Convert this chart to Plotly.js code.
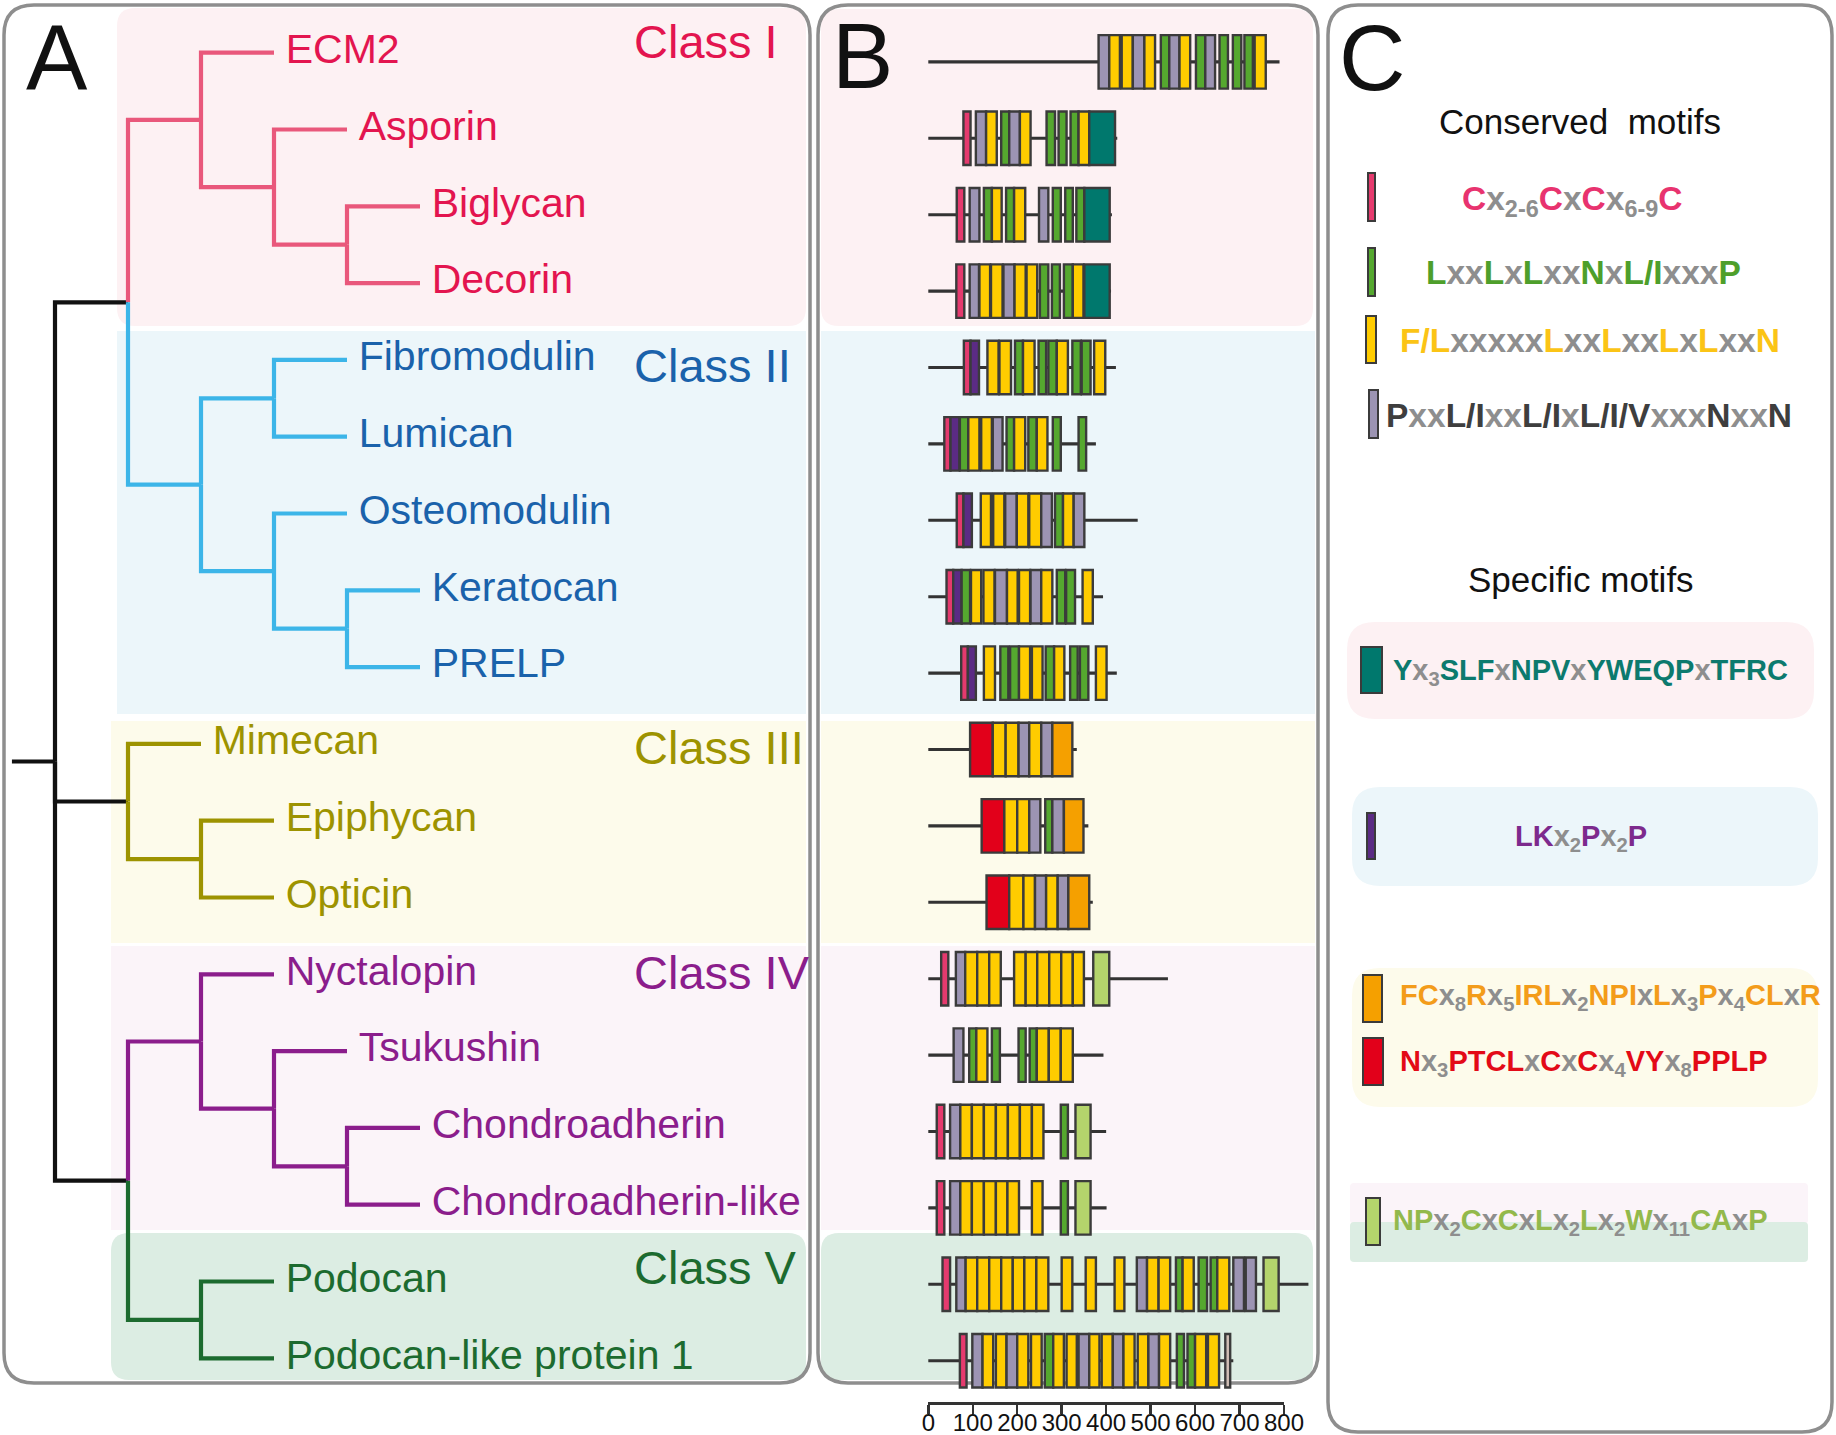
<!DOCTYPE html>
<html><head><meta charset="utf-8">
<script src="https://cdn.plot.ly/plotly-3.0.1.min.js"></script>
<style>html,body{margin:0;padding:0;background:#fff}#chart{width:1836px;height:1435px}</style>
</head><body><div id="chart"></div>
<script>
// ================= DATA =================
const proteins = ['ECM2','Asporin','Biglycan','Decorin','Fibromodulin','Lumican','Osteomodulin','Keratocan','PRELP','Mimecan','Epiphycan','Opticin','Nyctalopin','Tsukushin','Chondroadherin','Chondroadherin-like','Podocan','Podocan-like protein 1'];
const proteinClass = ['I','I','I','I','II','II','II','II','II','III','III','III','IV','IV','IV','IV','V','V'];
const proteinLength = [790,425,413,411,422,377,471,393,424,334,360,370,539,394,400,401,855,686];
const classNames = ['I','II','III','IV','V'];
const classLabels = ['Class I','Class II','Class III','Class IV','Class V'];
// cladogram (nested leaf names)
const tree = [
  [['ECM2',['Asporin',['Biglycan','Decorin']]], [['Fibromodulin','Lumican'],['Osteomodulin',['Keratocan','PRELP']]]],
  ['Mimecan',['Epiphycan','Opticin']],
  [['Nyctalopin',['Tsukushin',['Chondroadherin','Chondroadherin-like']]], ['Podocan','Podocan-like protein 1']]
];
// domain architecture: [start aa, end aa, motif code]
const domECM2 = [[383,407,'P'],[407,431,'Y'],[435,460,'Y'],[460,486,'P'],[486,510,'Y'],[523,542,'L'],[542,565,'P'],[565,589,'Y'],[602,623,'L'],[623,645,'P'],[655,674,'L'],[685,704,'L'],[711,730,'L'],[734,759,'Y']];
const domAsporin = [[79,95,'C'],[107,130,'P'],[130,154,'Y'],[164,182,'L'],[182,206,'P'],[206,230,'Y'],[266,285,'L'],[293,311,'L'],[320,338,'L'],[338,362,'Y'],[362,420,'T']];
const domBiglycan = [[64,81,'C'],[93,115,'P'],[125,143,'L'],[143,165,'Y'],[175,193,'L'],[193,218,'Y'],[249,270,'P'],[280,298,'L'],[308,325,'L'],[333,351,'L'],[351,408,'T']];
const domDecorin = [[63,81,'C'],[93,114,'P'],[115,139,'Y'],[141,167,'Y'],[169,194,'P'],[194,219,'Y'],[221,245,'Y'],[251,270,'L'],[278,296,'L'],[305,325,'L'],[325,349,'Y'],[351,408,'T']];
const domFibromodulin = [[80,95,'C'],[95,114,'K'],[133,158,'Y'],[160,186,'Y'],[195,213,'L'],[213,239,'Y'],[248,265,'L'],[270,289,'L'],[289,314,'Y'],[324,343,'L'],[345,365,'L'],[373,398,'Y']];
const domLumican = [[36,50,'C'],[50,70,'K'],[71,90,'L'],[90,115,'Y'],[119,143,'Y'],[145,167,'P'],[176,193,'L'],[193,218,'Y'],[225,244,'L'],[244,268,'Y'],[280,298,'L'],[338,355,'L']];
const domOsteomodulin = [[64,79,'C'],[79,98,'K'],[118,141,'Y'],[146,171,'Y'],[173,199,'P'],[199,225,'Y'],[227,254,'Y'],[254,278,'P'],[285,303,'L'],[303,327,'Y'],[327,351,'P']];
const domKeratocan = [[41,56,'C'],[56,75,'K'],[75,94,'L'],[96,119,'Y'],[124,149,'Y'],[150,177,'P'],[177,201,'Y'],[204,229,'Y'],[230,254,'P'],[254,279,'Y'],[289,308,'L'],[310,330,'L'],[347,370,'Y']];
const domPRELP = [[74,89,'C'],[89,107,'K'],[125,150,'Y'],[162,180,'L'],[184,204,'L'],[204,229,'Y'],[233,257,'Y'],[264,283,'L'],[283,306,'Y'],[319,336,'L'],[341,360,'L'],[377,401,'Y']];
const domMimecan = [[94,145,'R'],[145,174,'Y'],[174,203,'Y'],[203,227,'P'],[227,254,'Y'],[254,279,'P'],[279,324,'O']];
const domEpiphycan = [[120,171,'R'],[171,200,'Y'],[200,227,'Y'],[227,252,'P'],[263,279,'L'],[279,305,'P'],[305,349,'O']];
const domOpticin = [[131,182,'R'],[182,214,'Y'],[214,240,'Y'],[240,265,'P'],[265,291,'Y'],[291,315,'P'],[315,362,'O']];
const domNyctalopin = [[29,45,'C'],[62,83,'P'],[83,110,'Y'],[110,137,'Y'],[137,163,'Y'],[193,219,'Y'],[219,245,'Y'],[245,272,'Y'],[272,299,'Y'],[299,325,'Y'],[325,350,'Y'],[371,407,'G']];
const domTsukushin = [[57,79,'P'],[92,108,'L'],[108,133,'Y'],[143,161,'L'],[203,219,'L'],[228,244,'L'],[244,271,'Y'],[271,298,'Y'],[298,325,'Y']];
const domChondroadherin = [[19,36,'C'],[49,72,'P'],[72,98,'Y'],[98,125,'Y'],[125,152,'Y'],[152,179,'Y'],[179,206,'Y'],[206,233,'Y'],[233,259,'Y'],[298,314,'L'],[331,365,'G']];
const domChondroadherinLike = [[19,36,'C'],[49,72,'P'],[72,98,'Y'],[98,125,'Y'],[125,152,'Y'],[152,178,'Y'],[178,204,'Y'],[233,257,'Y'],[298,314,'L'],[331,365,'G']];
const domPodocan = [[32,49,'C'],[63,84,'P'],[84,110,'Y'],[110,137,'Y'],[137,164,'Y'],[164,190,'Y'],[190,216,'Y'],[216,243,'Y'],[243,270,'Y'],[300,324,'Y'],[354,377,'Y'],[419,441,'Y'],[469,492,'P'],[492,518,'Y'],[518,544,'Y'],[557,572,'L'],[572,597,'Y'],[608,627,'L'],[635,650,'L'],[650,677,'Y'],[686,710,'P'],[714,737,'P'],[754,788,'G']];
const domPodocanLike = [[71,86,'C'],[99,122,'P'],[122,146,'Y'],[152,176,'Y'],[176,200,'P'],[200,225,'Y'],[231,255,'Y'],[262,281,'L'],[281,305,'Y'],[311,334,'Y'],[338,362,'P'],[362,385,'Y'],[390,415,'Y'],[415,439,'P'],[439,464,'Y'],[471,495,'Y'],[495,519,'P'],[519,544,'Y'],[559,575,'L'],[583,600,'L'],[600,625,'Y'],[629,654,'Y'],[668,679,'U']];
const domains = [domECM2,domAsporin,domBiglycan,domDecorin,domFibromodulin,domLumican,domOsteomodulin,domKeratocan,domPRELP,domMimecan,domEpiphycan,domOpticin,domNyctalopin,domTsukushin,domChondroadherin,domChondroadherinLike,domPodocan,domPodocanLike];
const scaleTicks = [0,100,200,300,400,500,600,700,800];
// motifs (panel C)
const conservedCodes = ['C','L','Y','P'];
const conservedMotifs = ['Cx_{2-6}CxCx_{6-9}C','LxxLxLxxNxL/IxxxP','F/LxxxxxLxxLxxLxLxxN','PxxL/IxxL/IxL/I/VxxxNxxN'];
const specificCodes = ['T','K','O','R','G'];
const specificMotifs = ['Yx_{3}SLFxNPVxYWEQPxTFRC','LKx_{2}Px_{2}P','FCx_{8}Rx_{5}IRLx_{2}NPIxLx_{3}Px_{4}CLxR','Nx_{3}PTCLxCxCx_{4}VYx_{8}PPLP','NPx_{2}CxCxLx_{2}Lx_{2}Wx_{11}CAxP'];

// ================= STYLE / LAYOUT CONSTANTS =================
const W = 1836, H = 1435;
const FONT = 'Liberation Sans, Arial, Helvetica, sans-serif';
const motifFill = {C:'#e53a6e', L:'#55a82f', Y:'#ffcc00', P:'#9c94b3', T:'#00786d', K:'#5b2b84', O:'#f5a000', R:'#e2001a', G:'#b4d46c', U:'#cfbdb5'};
const motifText = {C:'#e8336f', L:'#4e9f2b', Y:'#fbc416', P:'#3e3e3e', T:'#0c7a6e', K:'#7d2a8d', O:'#f39c1a', R:'#e30a17', G:'#93b94c'};
const XGRAY = '#8e8e8e';
const lineColor = {I:'#e9587b', II:'#3cb5e8', III:'#9d9300', IV:'#8b1d8c', V:'#1c6b2f'};
const textColor = {I:'#e3154f', II:'#1a62ab', III:'#9d9300', IV:'#8b1d8c', V:'#1c6b2f'};
const bgColor = {I:'#fdf1f3', II:'#ecf6fa', III:'#fdfbeb', IV:'#fbf4f9', V:'#dcede3'};
// tree pixel mapping
const TREE_X0 = 55, TREE_DX = 73, TREE_Y0 = 52.7, TREE_DY = 76.8, ROOT_STUB = -0.59, LABEL_GAP = 0.16;
// domain panel pixel mapping
const AA_X0 = 928.3, AA_PX = 0.4446, B_Y0 = 61.9, B_DY = 76.4, BOX_H = 0.70, BACKBONE_H = 0.04;
// scale bar: axis line at y=1402 px; label strip y4 is in pixels below that line (negative = down)
const SCALE_LINE_PX = 1402, SCALE_LABEL_Y = -23;

const px = x => x / W, py = y => 1 - y / H;

// ================= TREE =================
function build(node, depth) {
  if (typeof node === 'string') {
    const i = proteins.indexOf(node);
    return {leaf: true, name: node, y: i, d: depth, classes: new Set([proteinClass[i]])};
  }
  const kids = node.map(k => build(k, depth + 1));
  const classes = new Set();
  kids.forEach(k => k.classes.forEach(c => classes.add(c)));
  return {leaf: false, kids, y: kids.reduce((s, k) => s + k.y, 0) / kids.length, d: depth, classes};
}
const root = build(tree, 0);
const segs = {};
function addSeg(color, xs, ys) {
  if (!segs[color]) segs[color] = {x: [], y: []};
  segs[color].x.push(...xs, null); segs[color].y.push(...ys, null);
}
function walk(n, isRoot) {
  if (n.leaf) return;
  n.kids.forEach(k => {
    const col = (isRoot || k.classes.size !== 1) ? '#111111' : lineColor[[...k.classes][0]];
    addSeg(col, [n.d, n.d, k.d], [n.y, k.y, k.y]);
    walk(k, false);
  });
}
walk(root, true);
addSeg('#111111', [ROOT_STUB, root.d], [root.y, root.y]);
const leafDepth = {};
(function collect(n){ if (n.leaf) leafDepth[n.name] = n.d; else n.kids.forEach(collect); })(root);

const traces = [];
Object.keys(segs).forEach(col => traces.push({
  type: 'scatter', mode: 'lines', x: segs[col].x, y: segs[col].y, xaxis: 'x', yaxis: 'y',
  line: {color: col, width: 4.2}, hoverinfo: 'skip', showlegend: false, cliponaxis: false
}));
traces.push({
  type: 'scatter', mode: 'text', xaxis: 'x', yaxis: 'y',
  x: proteins.map(p => leafDepth[p] + LABEL_GAP), y: proteins.map((p, i) => i),
  text: proteins, textposition: 'middle right',
  textfont: {family: FONT, size: 41, color: proteinClass.map(c => textColor[c])},
  hoverinfo: 'skip', showlegend: false, cliponaxis: false
});

// ================= DOMAIN ARCHITECTURE =================
traces.push({
  type: 'bar', orientation: 'h', xaxis: 'x2', yaxis: 'y2',
  y: proteins.map((p, i) => i), x: proteinLength, base: proteinLength.map(() => 0),
  width: BACKBONE_H, marker: {color: '#333333', line: {width: 0}}, hoverinfo: 'skip', showlegend: false
});
const dY = [], dX = [], dB = [], dC = [];
domains.forEach((arr, i) => arr.forEach(([s, e, c]) => { dY.push(i); dX.push(e - s); dB.push(s); dC.push(motifFill[c]); }));
traces.push({
  type: 'bar', orientation: 'h', xaxis: 'x2', yaxis: 'y2',
  y: dY, x: dX, base: dB, width: BOX_H,
  marker: {color: dC, line: {color: '#3b3b3b', width: 2.4}}, hoverinfo: 'skip', showlegend: false
});
// scale bar carrier (ticks) and its labels (through the same aa scale)
traces.push({
  type: 'scatter', mode: 'markers', xaxis: 'x3', yaxis: 'y3', x: scaleTicks, y: scaleTicks.map(() => 0),
  marker: {opacity: 0}, hoverinfo: 'skip', showlegend: false
});
traces.push({
  type: 'scatter', mode: 'text', xaxis: 'x4', yaxis: 'y4', x: scaleTicks, y: scaleTicks.map(() => SCALE_LABEL_Y),
  text: scaleTicks.map(String), textposition: 'middle center',
  textfont: {family: FONT, size: 24, color: '#111'}, hoverinfo: 'skip', showlegend: false, cliponaxis: false
});

// ================= SHAPES =================
function rr(x0, y0, x1, y1, r) {
  const P = (x, y) => `${px(x).toFixed(5)},${py(y).toFixed(5)}`;
  if (!r) return `M${P(x0,y0)} L${P(x1,y0)} L${P(x1,y1)} L${P(x0,y1)} Z`;
  return `M${P(x0+r,y0)} L${P(x1-r,y0)} Q${P(x1,y0)} ${P(x1,y0+r)} L${P(x1,y1-r)} Q${P(x1,y1)} ${P(x1-r,y1)} ` +
         `L${P(x0+r,y1)} Q${P(x0,y1)} ${P(x0,y1-r)} L${P(x0,y0+r)} Q${P(x0,y0)} ${P(x0+r,y0)} Z`;
}
const shapes = [];
const bgBoxes = [
  // panel A
  [117,8,806,326,18,'I'],[117,331,806,714,0,'II'],[111,721,806,943,0,'III'],[111,946,806,1230,0,'IV'],[111,1233,806,1380,18,'V'],
  // panel B
  [821,9,1313,326,18,'I'],[821,331,1315,714,0,'II'],[821,721,1315,943,0,'III'],[821,946,1315,1230,0,'IV'],[821,1233,1313,1380,18,'V'],
  // panel C
  [1347,622,1814,719,28,'I'],[1352,787,1818,886,28,'II'],[1352,968,1818,1107,28,'III'],[1350,1183,1808,1224,4,'IV'],[1350,1222,1808,1262,4,'V']
];
bgBoxes.forEach(([x0,y0,x1,y1,r,c]) => shapes.push({type:'path', xref:'paper', yref:'paper', path: rr(x0,y0,x1,y1,r), fillcolor: bgColor[c], line:{width:0}, layer:'below'}));
[[4,5,810,1383],[818,5,1318,1383],[1328,5,1832,1432]].forEach(([x0,y0,x1,y1]) =>
  shapes.push({type:'path', xref:'paper', yref:'paper', path: rr(x0,y0,x1,y1,30), fillcolor:'rgba(0,0,0,0)', line:{color:'#8e8e8e', width:3.5}, layer:'below'}));
// legend glyphs in panel C
const glyphBoxes = {C:[1368,173,1375,221], L:[1368,248,1375,296], Y:[1366,316,1376,363], P:[1369,390,1378,438],
  T:[1361,647,1382,693], K:[1367,813,1375,859], O:[1363,975,1382,1022], R:[1363,1038,1383,1085], G:[1366,1198,1380,1245]};
Object.keys(glyphBoxes).forEach(c => { const [x0,y0,x1,y1] = glyphBoxes[c];
  shapes.push({type:'rect', xref:'paper', yref:'paper', x0:px(x0), x1:px(x1), y0:py(y1), y1:py(y0), fillcolor: motifFill[c], line:{color:'#3b3b3b', width:2}, layer:'above'}); });

// ================= ANNOTATIONS =================
function motifHtml(pattern, color) {
  let out = '', i = 0;
  while (i < pattern.length) {
    const ch = pattern[i];
    if (ch === '_' && pattern[i+1] === '{') {
      const j = pattern.indexOf('}', i);
      out += `<span style="color:${XGRAY}"><sub>${pattern.slice(i+2, j)}</sub></span>`; i = j + 1;
    } else if (ch === 'x') {
      let j = i; while (pattern[j] === 'x') j++;
      out += `<span style="color:${XGRAY}">${pattern.slice(i, j)}</span>`; i = j;
    } else {
      let j = i; while (j < pattern.length && pattern[j] !== 'x' && pattern[j] !== '_') j++;
      out += `<span style="color:${color}">${pattern.slice(i, j)}</span>`; i = j;
    }
  }
  return '<b>' + out + '</b>';
}
const ann = [];
function addText(text, x, y, size, color, xanchor) {
  ann.push({text, x: px(x), y: py(y), xref:'paper', yref:'paper', showarrow:false, xanchor: xanchor || 'center', yanchor:'middle',
    font:{family: FONT, size, color}});
}
addText('A', 57, 58, 92, '#111'); addText('B', 862, 56, 92, '#111'); addText('C', 1372, 58, 92, '#111');
const classLabelPos = [[632,41],[632,365],[632,747],[632,972],[632,1267]];
classNames.forEach((c, k) => addText(classLabels[k], classLabelPos[k][0], classLabelPos[k][1], 47, textColor[c], 'left'));
addText('Conserved\u00a0\u00a0motifs', 1580, 121, 35, '#111');
addText('Specific motifs', 1581, 579, 35, '#111');
const conservedPos = [[1572,201,'center'],[1583,273,'center'],[1590,340,'center'],[1589,415,'center']];
conservedCodes.forEach((c, k) => addText(motifHtml(conservedMotifs[k], motifText[c]), conservedPos[k][0], conservedPos[k][1], 33.5, motifText[c], conservedPos[k][2]));
const specificPos = [[1391,672,'left'],[1581,838,'center'],[1398,997,'left'],[1398,1063,'left'],[1391,1222,'left']];
specificCodes.forEach((c, k) => addText(motifHtml(specificMotifs[k], motifText[c]), specificPos[k][0], specificPos[k][1], 29, motifText[c], specificPos[k][2]));

// ================= LAYOUT =================
const hidden = {visible:false, showgrid:false, zeroline:false, fixedrange:true};
const scaleDomain = [AA_X0/W, (AA_X0 + scaleTicks[scaleTicks.length-1]*AA_PX)/W];
const scaleRange = [scaleTicks[0], scaleTicks[scaleTicks.length-1]];
const layout = {
  width: W, height: H, margin:{l:0,r:0,t:0,b:0,pad:0}, autosize:false,
  paper_bgcolor:'#ffffff', plot_bgcolor:'rgba(0,0,0,0)', showlegend:false, barmode:'overlay',
  xaxis: Object.assign({domain:[0,1], range:[(0 - TREE_X0)/TREE_DX, (W - TREE_X0)/TREE_DX], anchor:'y'}, hidden),
  yaxis: Object.assign({domain:[0,1], range:[(H - TREE_Y0)/TREE_DY, -TREE_Y0/TREE_DY], anchor:'x'}, hidden),
  xaxis2: Object.assign({domain:[0,1], range:[-AA_X0/AA_PX, (W - AA_X0)/AA_PX], anchor:'y2'}, hidden),
  yaxis2: Object.assign({domain:[0,1], range:[(H - B_Y0)/B_DY, -B_Y0/B_DY], anchor:'x2'}, hidden),
  // scale bar: axis line at the bottom of a thin strip, ticks pointing down
  xaxis3: {domain: scaleDomain, range: scaleRange, anchor:'y3',
    showline:true, linecolor:'#333', linewidth:2.5, ticks:'outside', ticklen:9, tickwidth:2.5, tickcolor:'#333',
    tickmode:'array', tickvals: scaleTicks, showticklabels:false,
    showgrid:false, zeroline:false, fixedrange:true},
  yaxis3: Object.assign({domain:[1 - SCALE_LINE_PX/H, 1 - (SCALE_LINE_PX - 10)/H], range:[-1,1], anchor:'x3'}, hidden),
  // label strip below the scale line (same aa scale)
  xaxis4: Object.assign({domain: scaleDomain, range: scaleRange, anchor:'y4'}, hidden),
  yaxis4: Object.assign({domain:[0, 1 - SCALE_LINE_PX/H], range:[-(H - SCALE_LINE_PX), 0], anchor:'x4'}, hidden),
  shapes, annotations: ann
};
Plotly.newPlot('chart', traces, layout, {staticPlot:true, displayModeBar:false});
</script></body></html>
